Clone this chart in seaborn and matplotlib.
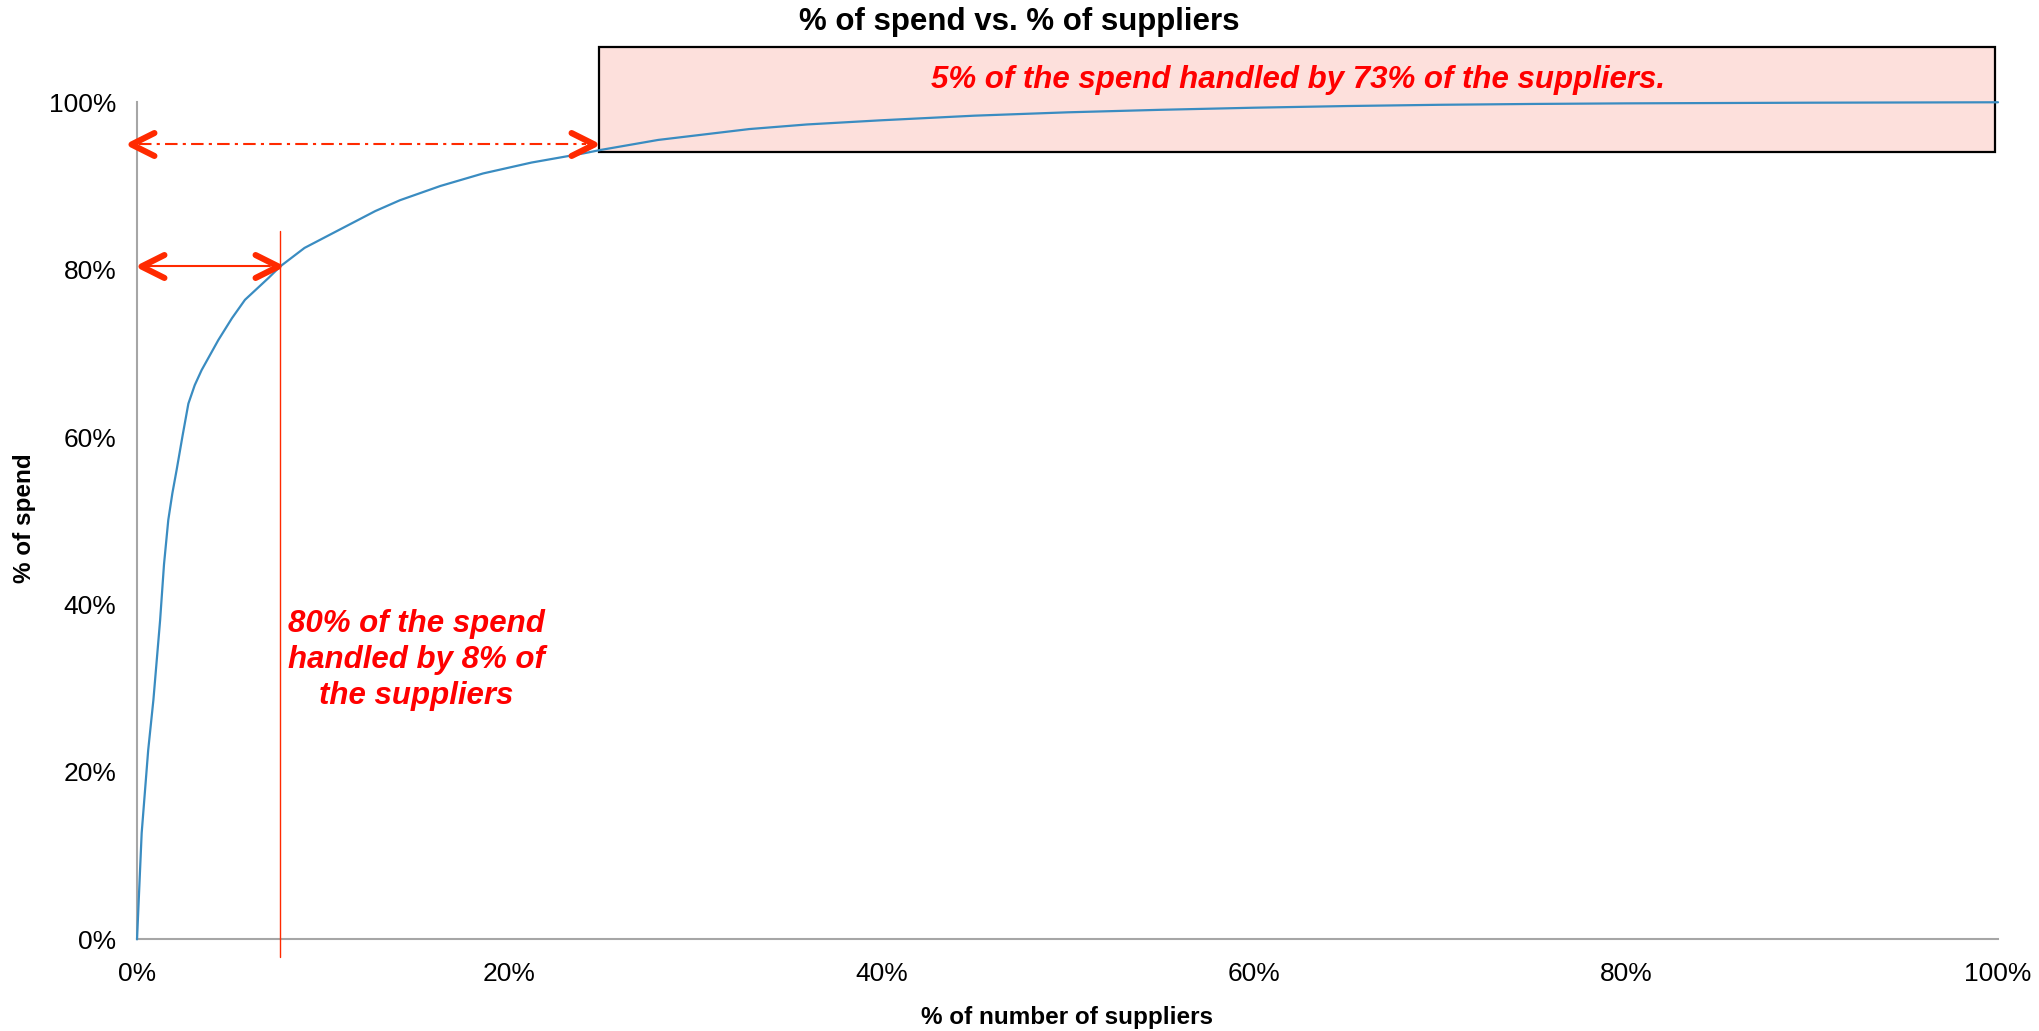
import numpy as np
import pandas as pd
import matplotlib
matplotlib.use("Agg")
import matplotlib.pyplot as plt
import seaborn as sns
from matplotlib.path import Path
from matplotlib.markers import MarkerStyle
from matplotlib.patches import Rectangle
from matplotlib.ticker import FuncFormatter

# ---------------- data ----------------
supplier_pct = [0, 0.25, 0.6, 0.88, 1.24, 1.45, 1.68, 1.9, 2.13, 2.45, 2.76, 3.1, 3.47,
                4.37, 5.1, 5.8, 7.06, 7.7, 9.0, 10.64, 12.8, 14.13, 16.3, 18.6, 21.2,
                24.0, 24.9, 28.0, 32.9, 36.0, 40, 45, 50, 55, 60, 65, 70, 75, 80, 90, 100]
spend_pct = [0, 12.7, 22.6, 28.6, 38.1, 44.8, 50.1, 53.3, 56.1, 60.2, 64.0, 66.2, 68.0,
             71.6, 74.2, 76.4, 79.0, 80.4, 82.6, 84.5, 87.0, 88.3, 90.0, 91.5, 92.8,
             93.9, 94.3, 95.5, 96.8, 97.35, 97.85, 98.4, 98.8, 99.1, 99.35, 99.55, 99.7,
             99.8, 99.87, 99.95, 100]
x_ticks = [0, 20, 40, 60, 80, 100]
y_ticks = [0, 20, 40, 60, 80, 100]

cutoff_supplier = 7.7     # 8% of suppliers
cutoff_spend = 80.4       # 80% of spend
tail_supplier = 24.8      # start of the long tail
tail_spend = 95.0
box_bottom = 94.1
box_top = 106.6

title = "% of spend vs. % of suppliers"
x_label = "% of number of suppliers"
y_label = "% of spend"
note_head = "80% of the spend\nhandled by 8% of\nthe suppliers"
note_tail = "5% of the spend handled by 73% of the suppliers."

# ---------------- style ----------------
sns.set_style("white")
plt.rcParams['font.family'] = ['Liberation Sans', 'DejaVu Sans']
plt.rcParams['text.color'] = 'black'

RED = "#ff2a00"
TXT_RED = "#ff0000"
BLUE = "#3a8cc1"
GRAY = "#a6a6a6"

fig = plt.figure(figsize=(20.39, 10.31), dpi=100)
ax = fig.add_axes([0.0672, 0.0889, 0.9127, 0.8119])

df = pd.DataFrame({"suppliers": supplier_pct, "spend": spend_pct})
sns.lineplot(data=df, x="suppliers", y="spend", ax=ax, color=BLUE, linewidth=1.6,
             zorder=4, clip_on=False)

ax.set_xlim(0, 100)
ax.set_ylim(0, 100)
ax.set_xticks(x_ticks)
ax.set_yticks(y_ticks)
pct = FuncFormatter(lambda v, p: f"{v:.0f}%")
ax.xaxis.set_major_formatter(pct)
ax.yaxis.set_major_formatter(pct)
for s in ["top", "right"]:
    ax.spines[s].set_visible(False)
for s in ["left", "bottom"]:
    ax.spines[s].set_color(GRAY)
    ax.spines[s].set_linewidth(1.5)
ax.tick_params(axis="both", direction="out", length=6, width=1.5, color=GRAY,
               labelsize=19, labelcolor="black")
ax.tick_params(axis="y", pad=9)
ax.tick_params(axis="x", pad=10)
ax.set_xlabel("")
ax.set_ylabel("")

fig.text(0.4998, 0.9787, title, ha="center", va="center", fontsize=22.5,
         fontweight="bold", color="black")
fig.text(0.5235, 0.0135, x_label, ha="center", va="center", fontsize=17.5,
         fontweight="bold", color="black")
fig.text(0.0118, 0.497, y_label, ha="center", va="center", rotation=90,
         fontsize=17.5, fontweight="bold", color="black")

# long-tail box
ax.add_patch(Rectangle((tail_supplier, box_bottom), 100 - tail_supplier - 0.15,
                       box_top - box_bottom, facecolor="#fde0dc", edgecolor="black",
                       linewidth=1.6, zorder=3, clip_on=False))
ax.text((tail_supplier + 100) / 2, 102.7, note_tail, ha="center", va="center",
        fontsize=22.5, fontweight="bold", fontstyle="italic", color=TXT_RED, zorder=5,
        clip_on=False)

# vertical cutoff line
ax.plot([cutoff_supplier, cutoff_supplier], [-2.1, 84.6], color=RED, linewidth=1.0,
        zorder=5, clip_on=False)

ax.text(15.0, 33.4, note_head, ha="center", va="center", multialignment="center",
        fontsize=22.5, fontweight="bold", fontstyle="italic", color=TXT_RED,
        linespacing=1.25)

# arrows (shaft + chevron heads)
left_head = MarkerStyle(Path([(2, 1), (0, 0), (2, -1)],
                             [Path.MOVETO, Path.LINETO, Path.LINETO]),
                        fillstyle="none", capstyle="round", joinstyle="miter")
right_head = MarkerStyle(Path([(-2, 1), (0, 0), (-2, -1)],
                              [Path.MOVETO, Path.LINETO, Path.LINETO]),
                         fillstyle="none", capstyle="round", joinstyle="miter")

def double_arrow(x0, x1, y, ls):
    ax.plot([x0 + 0.4, x1 - 0.4], [y, y], color=RED, linewidth=1.5, linestyle=ls,
            zorder=6, clip_on=False)
    for x, head in ((x0, left_head), (x1, right_head)):
        ax.plot([x], [y], marker=head, markersize=33, markeredgewidth=4.4,
                color=RED, mfc="none", linestyle="none", zorder=7, clip_on=False)

double_arrow(0.2, cutoff_supplier - 0.15, cutoff_spend, "-")
double_arrow(-0.3, tail_supplier - 0.25, tail_spend, (0, (6, 2.5, 1.5, 2.5)))

fig.savefig("out.png", dpi=100)
